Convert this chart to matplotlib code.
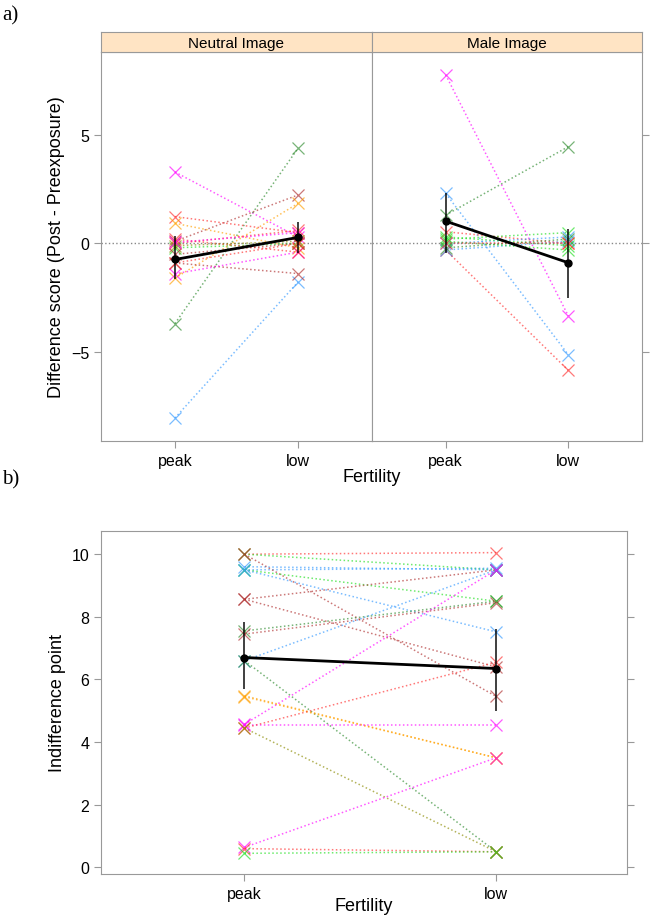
import matplotlib
matplotlib.use('Agg')
import matplotlib.pyplot as plt

# colores (tipo lattice, con transparencia)
pal = {
    'red': '#FF3030', 'orange': '#FFA000', 'green': '#20E020',
    'dgreen': '#2E8B2E', 'blue': '#3399FF', 'magenta': '#FF00FF',
    'brown': '#B03030', 'olive': '#8B8B00',
}

fertilidad = ['peak', 'low']

# a) Neutral Image: diferencia por sujeto
neutral_peak = [3.3, -3.7, -8.06, 1.24, 0.93, 0.1, -1.6, -0.9, -1.4, 0.0, -0.2, 0.2, -0.1, -0.5, 0.05, -0.9]
neutral_low = [0.3, 4.4, -1.78, 0.5, -0.2, 2.24, 1.85, -1.39, -0.4, 0.6, 0.0, -0.4, 0.1, 0.0, 0.5, 0.0]
neutral_col = ['magenta', 'dgreen', 'blue', 'red', 'orange', 'brown', 'orange', 'brown',
               'magenta', 'red', 'green', 'red', 'olive', 'brown', 'magenta', 'red']

# a) Male Image
male_peak = [7.79, 1.31, 2.31, -0.3, 0.54, 0.2, 0.0, -0.3, 0.1, 0.3, -0.2, 0.0]
male_low = [-3.35, 4.47, -5.14, -5.86, 0.0, 0.5, 0.3, 0.1, -0.3, -0.1, 0.2, 0.0]
male_col = ['magenta', 'dgreen', 'blue', 'red', 'red', 'green', 'blue', 'blue',
            'green', 'green', 'dgreen', 'red']

# medias y barras de error (peak, low)
neutral_media = [-0.74, 0.28]
neutral_inf = [-1.62, -0.45]
neutral_sup = [0.36, 1.0]
male_media = [1.03, -0.89]
male_inf = [-0.46, -2.51]
male_sup = [2.35, 0.69]

# b) Indifference point
ind_peak = [10.0, 10.0, 9.6, 9.5, 9.5, 9.5, 10.0, 8.56, 8.56, 7.55, 7.45, 6.6, 6.6,
            5.48, 5.45, 4.57, 4.55, 4.45, 4.45, 0.64, 0.6, 0.45]
ind_low = [10.05, 9.5, 9.5, 9.55, 8.5, 7.52, 5.46, 9.5, 6.4, 8.5, 8.45, 9.5, 0.5,
           3.5, 3.5, 9.5, 4.55, 6.55, 0.5, 3.5, 0.5, 0.5]
ind_col = ['red', 'green', 'blue', 'blue', 'green', 'blue', 'brown', 'brown', 'brown',
           'dgreen', 'brown', 'blue', 'dgreen', 'orange', 'orange', 'magenta', 'magenta',
           'red', 'olive', 'magenta', 'red', 'green']
ind_media = [6.70, 6.35]
ind_inf = [5.7, 5.0]
ind_sup = [7.82, 7.6]

plt.rcParams['font.family'] = ['Liberation Sans', 'DejaVu Sans']
gris = '#999999'
W, H = 650, 920


def caja(px0, py0, px1, py1):
    # rectangulo en pixeles (desde arriba) -> fraccion de figura
    return [px0 / W, 1 - py1 / H, (px1 - px0) / W, (py1 - py0) / H]


def estilo(ax, izq=True, der=True, xlim=(0.4, 2.6)):
    for s in ax.spines.values():
        s.set_color(gris)
    ax.tick_params(direction='out', length=5, color=gris, labelsize=11.5, width=0.8)
    ax.tick_params(axis='y', left=izq, labelleft=izq, right=der, labelright=False)
    ax.set_xlim(*xlim)
    ax.set_xticks([1, 2])
    ax.set_xticklabels(fertilidad)


def dibujar(ax, peak, low, cols, media, inf, sup):
    for p, l, c in zip(peak, low, cols):
        ax.plot([1, 2], [p, l], ls=(0, (1, 1.6)), lw=1.1, color=pal[c], alpha=0.65,
                marker='x', ms=8, mew=0.9)
    ax.vlines([1, 2], inf, sup, color='black', lw=1.4, alpha=0.75, zorder=5)
    ax.plot([1, 2], media, color='black', lw=2, marker='o', ms=5, zorder=6)


fig = plt.figure(figsize=(6.5, 9.2), dpi=100)

# ---- a) ----
ax1 = fig.add_axes(caja(101, 53, 372, 442))
ax2 = fig.add_axes(caja(372, 53, 642, 442))
for ax, pk, lw_, cl, m, lo, hi in [(ax1, neutral_peak, neutral_low, neutral_col, neutral_media, neutral_inf, neutral_sup),
                                   (ax2, male_peak, male_low, male_col, male_media, male_inf, male_sup)]:
    ax.axhline(0, color='#888888', ls=':', lw=1)
    dibujar(ax, pk, lw_, cl, m, lo, hi)
    ax.set_ylim(-9.12, 8.84)
    ax.set_yticks([-5, 0, 5])
estilo(ax1, izq=True, der=False)
estilo(ax2, izq=False, der=True)
ax1.set_ylabel('Difference score (Post - Preexposure)', fontsize=13)

for px0, px1, txt in [(101, 372, 'Neutral Image'), (372, 642, 'Male Image')]:
    s = fig.add_axes(caja(px0, 33, px1, 53))
    s.set_facecolor('#FFE4C4')
    s.set_xticks([])
    s.set_yticks([])
    for sp in s.spines.values():
        sp.set_color(gris)
    s.text(0.5, 0.45, txt, ha='center', va='center', fontsize=11, transform=s.transAxes)

fig.text(372 / W, 1 - 478 / H, 'Fertility', ha='center', va='center', fontsize=13)

# ---- b) ----
ax3 = fig.add_axes(caja(101, 532, 627, 875))
dibujar(ax3, ind_peak, ind_low, ind_col, ind_media, ind_inf, ind_sup)
ax3.set_ylim(-0.21, 10.74)
ax3.set_yticks([0, 2, 4, 6, 8, 10])
estilo(ax3, xlim=(0.43, 2.52))
ax3.set_ylabel('Indifference point', fontsize=13)
fig.text(364 / W, 1 - 907 / H, 'Fertility', ha='center', va='center', fontsize=13)

fig.text(2 / W, 1 - 16 / H, 'a)', family='Liberation Serif', fontsize=15, va='center')
fig.text(2 / W, 1 - 480 / H, 'b)', family='Liberation Serif', fontsize=15, va='center')

plt.savefig('out.png', dpi=100)
